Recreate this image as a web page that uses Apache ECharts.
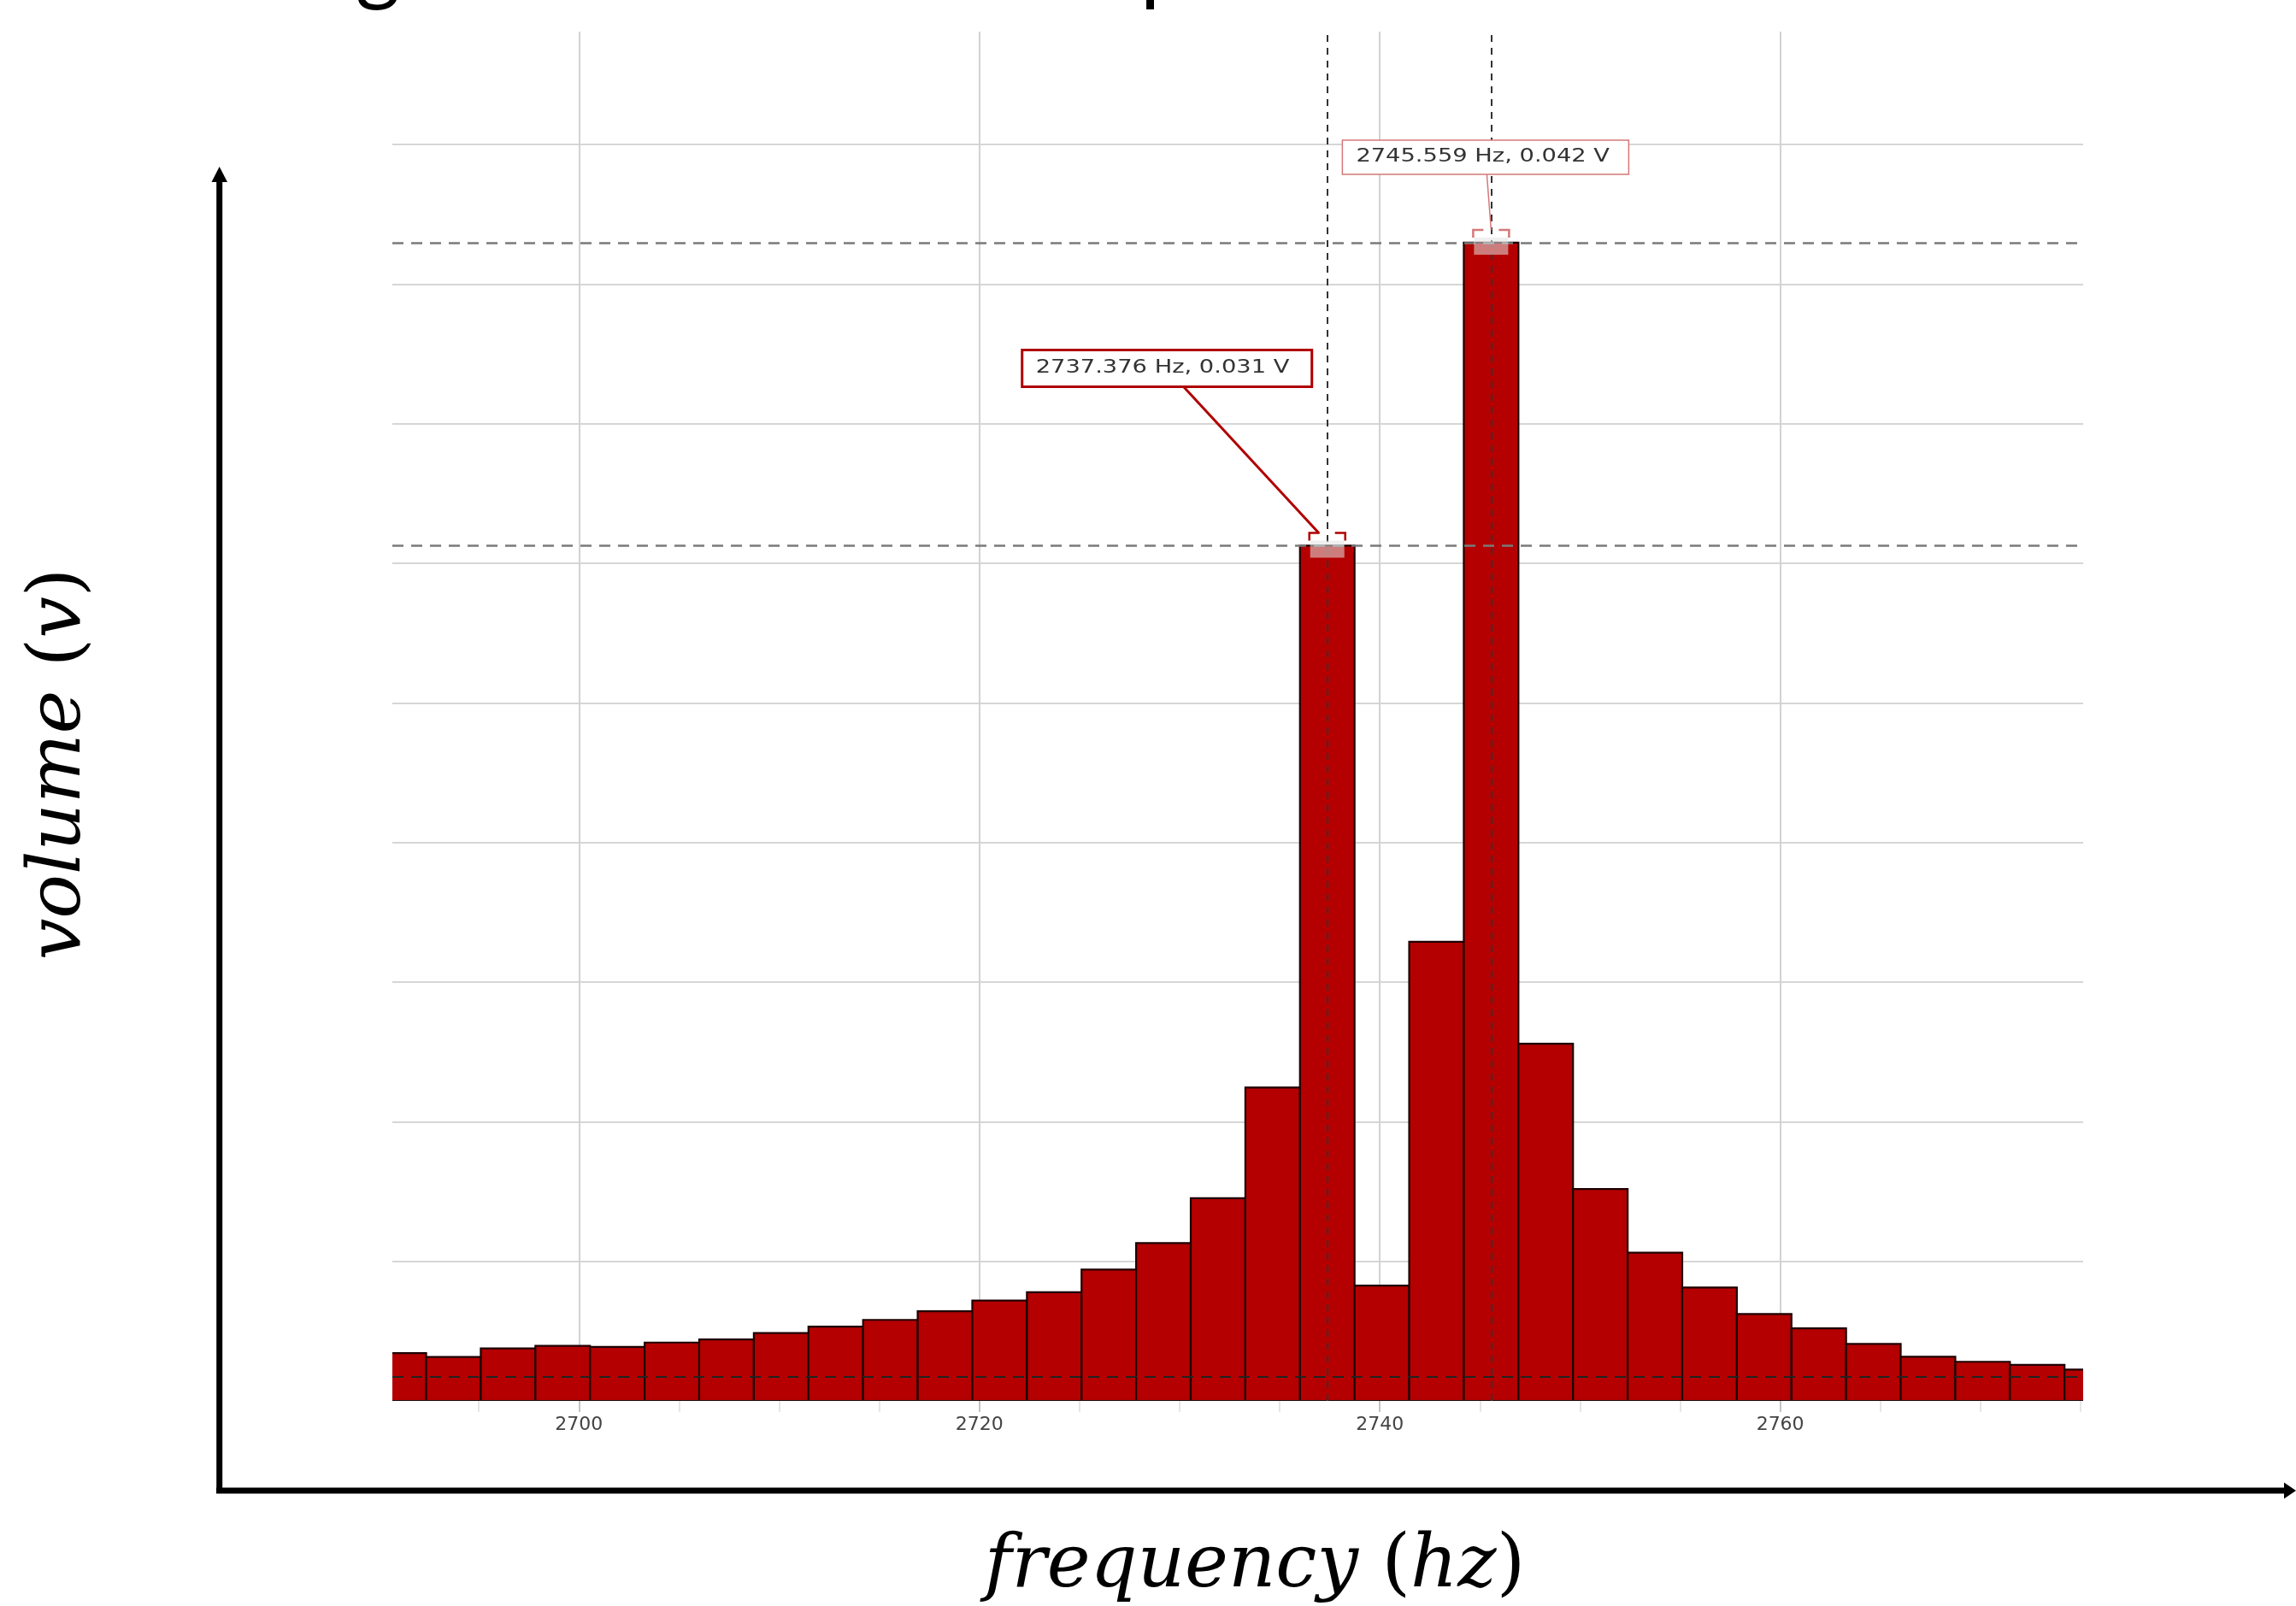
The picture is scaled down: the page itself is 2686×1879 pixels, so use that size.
<!DOCTYPE html>
<html>
<head>
<meta charset="utf-8">
<title>frequency spectrum</title>
<script src="https://cdn.jsdelivr.net/npm/echarts@6/dist/echarts.min.js"></script>
<style>
  html, body { margin: 0; padding: 0; background: #fff; }
  #chart { width: 2686px; height: 1879px; }
</style>
</head>
<body>
<div id="chart"></div>
<script>
// histogram bins: centre frequency (Hz) and height (V)
const binCenters = [
  2691.005, 2693.732, 2696.460, 2699.188, 2701.916, 2704.644, 2707.371, 2710.099,
  2712.827, 2715.555, 2718.282, 2721.010, 2723.738, 2726.466, 2729.193, 2731.921,
  2734.649, 2737.376, 2740.104, 2742.831, 2745.559, 2748.287, 2751.015, 2753.742,
  2756.470, 2759.198, 2761.926, 2764.653, 2767.381, 2770.109, 2772.836, 2775.564
];
const volumes = [
  0.00171, 0.00157, 0.00188, 0.00197, 0.00193, 0.00209, 0.00220, 0.00243,
  0.00266, 0.00290, 0.00321, 0.00359, 0.00389, 0.00470, 0.00565, 0.00726,
  0.01122, 0.03063, 0.00413, 0.01644, 0.04148, 0.01279, 0.00759, 0.00531,
  0.00406, 0.00311, 0.00260, 0.00204, 0.00158, 0.00140, 0.00129, 0.00112
];

// picked peaks shown with callouts
const peakFreqs = [2737.376, 2745.559];
const peakVolts = [0.031, 0.042];

// dashed reference level near the bottom
const refLevel = 0.00087;

// axis ranges and ticks
const xMin = 2690.68;
const xMax = 2775.13;
const xLabelValues = [2700, 2720, 2740, 2760];
const xMinorTicks = [2695, 2705, 2710, 2715, 2725, 2730, 2735, 2745, 2750, 2755, 2765, 2770, 2775];
const yMin = 0;
const yMax = 0.04904;
const yStep = 0.005;

const barColor = "#b40000";
const binWidth = (binCenters[binCenters.length - 1] - binCenters[0]) / (binCenters.length - 1);

// bar top under each picked peak
const peakTops = peakFreqs.map((f) => {
  let best = 0;
  binCenters.forEach((c, i) => {
    if (Math.abs(c - f) < Math.abs(binCenters[best] - f)) best = i;
  });
  return volumes[best];
});

const chart = echarts.init(document.getElementById("chart"));

const option = {
  backgroundColor: "#ffffff",
  animation: false,
  grid: { left: 459, top: 37, width: 1978, height: 1602 },
  xAxis: [
    {
      type: "value",
      min: xMin,
      max: xMax,
      axisLine: { show: false },
      axisTick: {
        show: true,
        customValues: xLabelValues,
        length: 13,
        lineStyle: { color: "#c4c4c4", width: 2 },
      },
      axisLabel: {
        customValues: xLabelValues,
        formatter: (v) => String(v),
        margin: 17,
        color: "#444",
        fontSize: 22,
        fontFamily: "DejaVu Sans",
      },
      splitLine: {
        show: true,
        lineStyle: { color: "#d2d2d2", width: 2 },
      },
    },
    {
      type: "value",
      min: xMin,
      max: xMax,
      position: "bottom",
      axisLine: { show: false },
      axisTick: {
        show: true,
        customValues: xMinorTicks,
        length: 13,
        lineStyle: { color: "#e6e6e6", width: 2 },
      },
      axisLabel: { show: false },
      splitLine: { show: false },
    },
  ],
  yAxis: {
    type: "value",
    min: yMin,
    max: yMax,
    interval: yStep,
    axisLine: { show: false },
    axisTick: { show: false },
    axisLabel: { show: false },
    splitLine: {
      show: true,
      showMinLine: false,
      showMaxLine: false,
      lineStyle: { color: "#d6d6d6", width: 2 },
    },
  },
  series: [
    {
      type: "custom",
      name: "spectrum",
      clip: true,
      data: binCenters.map((c, i) => [c, volumes[i]]),
      renderItem: function (params, api) {
        const c = api.value(0);
        const top = api.coord([c - binWidth / 2, api.value(1)]);
        const bottom = api.coord([c + binWidth / 2, 0]);
        return {
          type: "rect",
          shape: {
            x: top[0],
            y: top[1],
            width: bottom[0] - top[0],
            height: bottom[1] - top[1],
          },
          style: { fill: barColor, stroke: "#1e0000", lineWidth: 2.2 },
        };
      },
      z: 2,
    },
    {
      type: "scatter",
      name: "peaks",
      symbolSize: 0,
      data: peakFreqs.map((f, i) => [f, peakTops[i]]),
      z: 5,
      markLine: {
        silent: true,
        symbol: "none",
        precision: 6,
        label: { show: false },
        data: [
          ...peakFreqs.map((f) => ({
            xAxis: f,
            lineStyle: { color: "#333", width: 2, type: [8, 7] },
          })),
          ...peakTops.map((v) => ({
            yAxis: v,
            lineStyle: { color: "#7a7a7a", width: 2.5, type: [13, 9] },
          })),
          { yAxis: refLevel, lineStyle: { color: "#222", width: 2, type: [13, 9] } },
        ],
      },
    },
  ],
};

chart.setOption(option);

// callouts, peak markers, outer arrows and axis titles
const calloutStyle = [
  { box: [-357, -229, 339, 43], from: [-169, -187], to: [-10, -15], stroke: "#b00000", width: 3 },
  { box: [-174, -120, 335, 40], from: [-5, -80], to: [0, -15], stroke: "#d57878", width: 1.5 },
];

const graphics = [];

peakFreqs.forEach((f, i) => {
  const p = chart.convertToPixel({ xAxisIndex: 0, yAxisIndex: 0 }, [f, peakTops[i]]);
  const st = calloutStyle[i];
  const label = f.toFixed(3) + " Hz, " + peakVolts[i].toFixed(3) + " V";
  // marker at bar top
  graphics.push({
    type: "rect",
    shape: { x: p[0] - 20, y: p[1] - 6, width: 40, height: 20 },
    style: { fill: "rgba(228,228,228,0.55)" },
    z: 20,
  });
  graphics.push({
    type: "polyline",
    shape: { points: [[p[0] - 21, p[1] - 6], [p[0] - 21, p[1] - 15], [p[0] - 9, p[1] - 15]] },
    style: { stroke: st.stroke, lineWidth: 2.5, fill: null },
    z: 20,
  });
  graphics.push({
    type: "polyline",
    shape: { points: [[p[0] + 9, p[1] - 15], [p[0] + 21, p[1] - 15], [p[0] + 21, p[1] - 6]] },
    style: { stroke: st.stroke, lineWidth: 2.5, fill: null },
    z: 20,
  });
  // leader line
  graphics.push({
    type: "line",
    shape: { x1: p[0] + st.from[0], y1: p[1] + st.from[1], x2: p[0] + st.to[0], y2: p[1] + st.to[1] },
    style: { stroke: st.stroke, lineWidth: st.width },
    z: 21,
  });
  // box
  graphics.push({
    type: "rect",
    shape: { x: p[0] + st.box[0], y: p[1] + st.box[1], width: st.box[2], height: st.box[3] },
    style: { fill: "#fff", stroke: st.stroke, lineWidth: st.width },
    z: 22,
  });
  graphics.push({
    type: "text",
    x: p[0] + st.box[0] + 16,
    y: p[1] + st.box[1] + st.box[3] / 2,
    scaleX: 1.3,
    style: {
      text: label,
      font: "21px 'DejaVu Sans'",
      fill: "#333",
      textAlign: "left",
      textVerticalAlign: "middle",
    },
    z: 23,
  });
});

// outer arrow axes
graphics.push(
  { type: "line", shape: { x1: 256.7, y1: 210, x2: 256.7, y2: 1747 }, style: { stroke: "#000", lineWidth: 7 } },
  { type: "line", shape: { x1: 253, y1: 1744, x2: 2676, y2: 1744 }, style: { stroke: "#000", lineWidth: 7 } },
  { type: "polygon", shape: { points: [[256.7, 195], [247.5, 213], [266, 213]] }, style: { fill: "#000" } },
  { type: "polygon", shape: { points: [[2686, 1744], [2672, 1734.5], [2672, 1753.5]] }, style: { fill: "#000" } }
);

// axis titles (math-style italic with upright brackets)
const titleRich = {
  i: { fontFamily: "DejaVu Serif", fontStyle: "italic", fontSize: 86, fill: "#000" },
  r: { fontFamily: "DejaVu Serif", fontStyle: "normal", fontSize: 86, fill: "#000" },
};
graphics.push(
  {
    type: "text",
    x: 1468,
    y: 1834,
    style: {
      text: "{i|frequency\u00a0}{r|(}{i|hz}{r|)}",
      rich: titleRich,
      textAlign: "center",
      textVerticalAlign: "middle",
    },
  },
  {
    type: "text",
    x: 71,
    y: 894,
    rotation: Math.PI / 2,
    style: {
      text: "{i|volume\u00a0}{r|(}{i|v}{r|)}",
      rich: titleRich,
      textAlign: "center",
      textVerticalAlign: "middle",
    },
  }
);

// caption line cut off at the top edge
graphics.push(
  { type: "text", x: 416, y: -38, style: { text: "g", font: "100px Lato", fill: "#000", textVerticalAlign: "middle" } },
  { type: "text", x: 1334, y: -38, style: { text: "p", font: "100px Lato", fill: "#000", textVerticalAlign: "middle" } }
);

chart.setOption({ graphic: graphics });
</script>
</body>
</html>
